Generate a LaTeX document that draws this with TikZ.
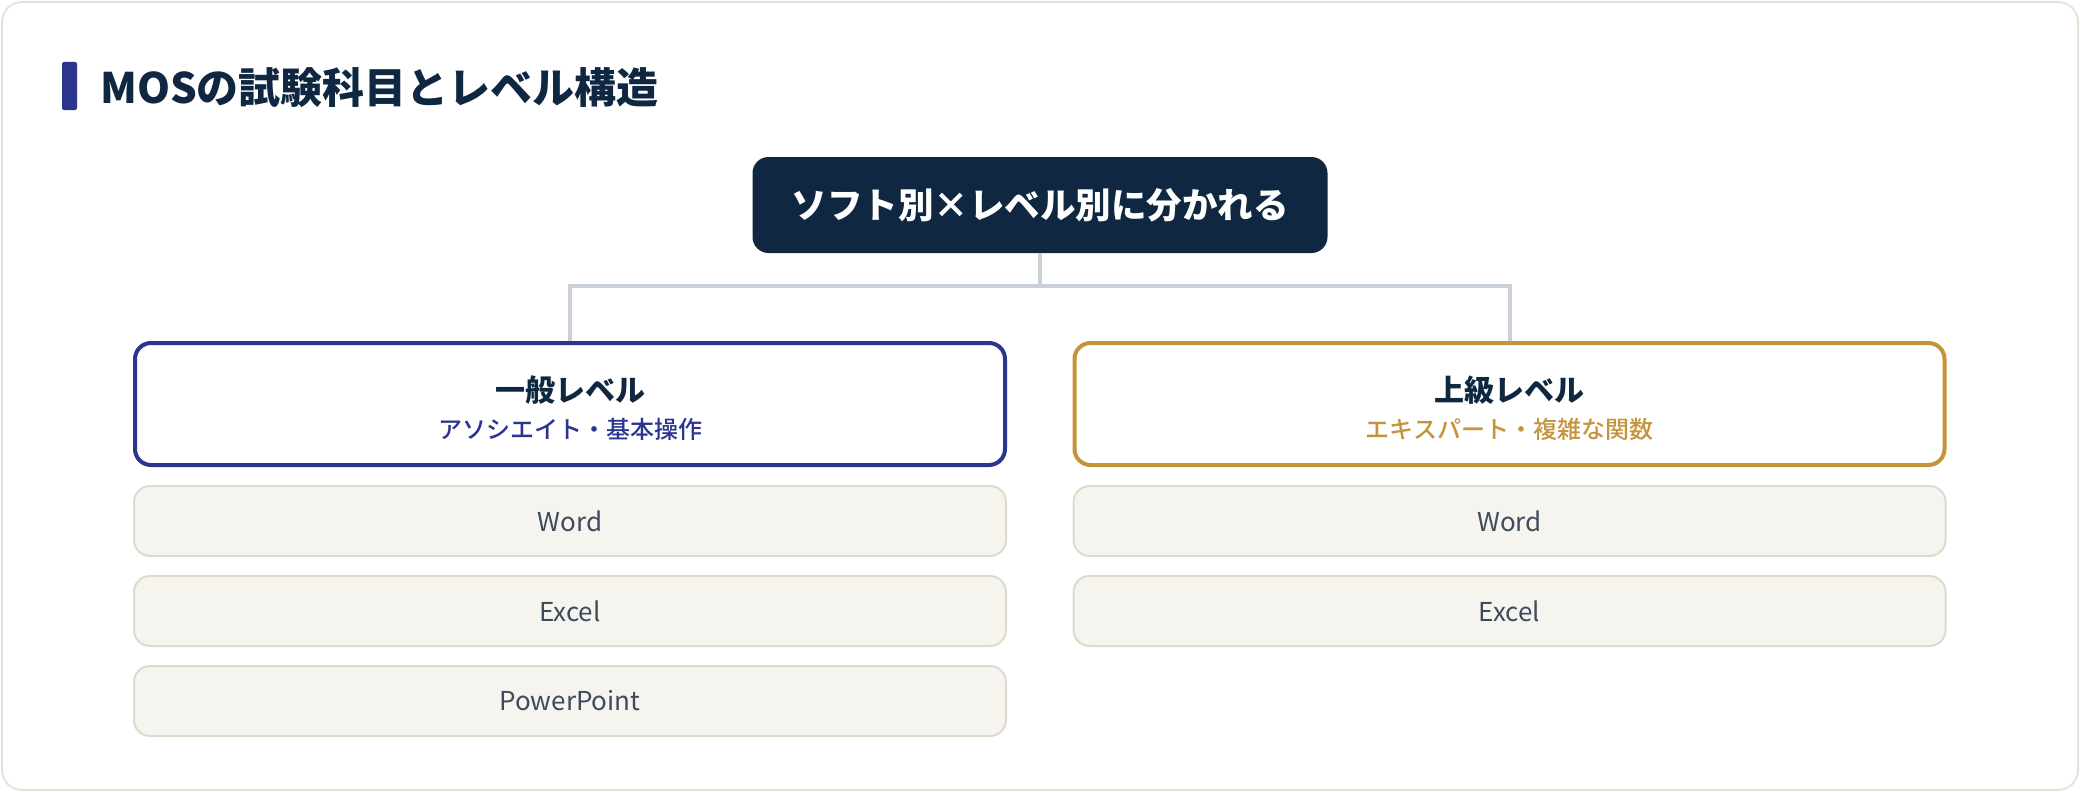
\documentclass[tikz,border=0pt]{standalone}
\usepackage{fontspec}
\setmainfont{Noto Sans CJK JP}
\newfontfamily\mediumfont{Noto Sans CJK JP Medium}
\usetikzlibrary{positioning}
\definecolor{MOS-navy}{HTML}{0F2741}
\definecolor{MOS-blue}{HTML}{2B3590}
\definecolor{MOS-gold}{HTML}{C4933A}
\definecolor{MOS-line}{HTML}{C9D0D9}
\definecolor{MOS-card}{HTML}{E6E3D6}
\definecolor{MOS-item}{HTML}{F6F4EF}
\definecolor{MOS-itemline}{HTML}{DEDBCC}
\definecolor{MOS-text}{HTML}{3D4B5C}
\newcommand{\levelhead}[1]{{\fontsize{30}{37}\selectfont\bfseries #1}}
\newcommand{\levelsub}[2]{{\fontsize{24}{37}\selectfont\mediumfont\color{#1}#2}}
\tikzset{%
    card/.style={%
        draw=MOS-card, line width=2pt,
        fill=white,
        rounded corners=20pt,
    },
    bar/.style={%
        rectangle,
        fill=MOS-blue,
        minimum width=15pt,
        minimum height=48pt,
        rounded corners=2pt,
        inner sep=0pt,
    },
    heading/.style={%
        text=MOS-navy,
        inner sep=0pt,
        font=\fontsize{42}{50}\selectfont\bfseries,
    },
    root/.style={%
        rectangle,
        fill=MOS-navy,
        text=white,
        minimum width=575pt,
        minimum height=96pt,
        rounded corners=16pt,
        font=\fontsize{35.5}{42}\selectfont\bfseries,
    },
    level/.style={%
        rectangle,
        draw=#1, line width=4pt,
        fill=white,
        minimum width=870pt,
        minimum height=122pt,
        rounded corners=16pt,
        text=MOS-navy,
        text height=71pt,
        align=center,
        font=\fontsize{24}{37}\selectfont,
    },
    item/.style={%
        rectangle,
        draw=MOS-itemline, line width=2pt,
        fill=MOS-item,
        minimum width=872pt,
        minimum height=70pt,
        rounded corners=16pt,
        text=MOS-text,
        font=\fontsize{26}{30}\selectfont,
    },
    tree/.style={%
        draw=MOS-line, line width=4pt,
    },
    node distance=18pt,
}

\begin{document}
\begin{tikzpicture}[x=1pt, y=-1pt]
  \useasboundingbox (0, 0) rectangle (2080, 792);
  \draw[card] (2, 2) rectangle (2078, 790);

  \node [bar] at (69.5, 86) (title_bar) {};
  \node [heading, anchor=west] at (100, 88) (title) {MOSの試験科目とレベル構造};

  \node [root] at (1040, 205) (root) {ソフト別×レベル別に分かれる};

  \node [level=MOS-blue] at (570, 404) (general)
    {\levelhead{一般レベル}\\\levelsub{MOS-blue}{アソシエイト・基本操作}};
  \node [level=MOS-gold] at (1509.5, 404) (expert)
    {\levelhead{上級レベル}\\\levelsub{MOS-gold}{エキスパート・複雑な関数}};

  \node [item, below=of general] (general_word) {Word};
  \node [item, below=of general_word] (general_excel) {Excel};
  \node [item, below=of general_excel] (general_ppt) {PowerPoint};

  \node [item, below=of expert] (expert_word) {Word};
  \node [item, below=of expert_word] (expert_excel) {Excel};

  \draw[tree] (root.south) -- ++(0, 33) -| (general.north);
  \draw[tree] (root.south) -- ++(0, 33) -| (expert.north);
\end{tikzpicture}
\end{document}
